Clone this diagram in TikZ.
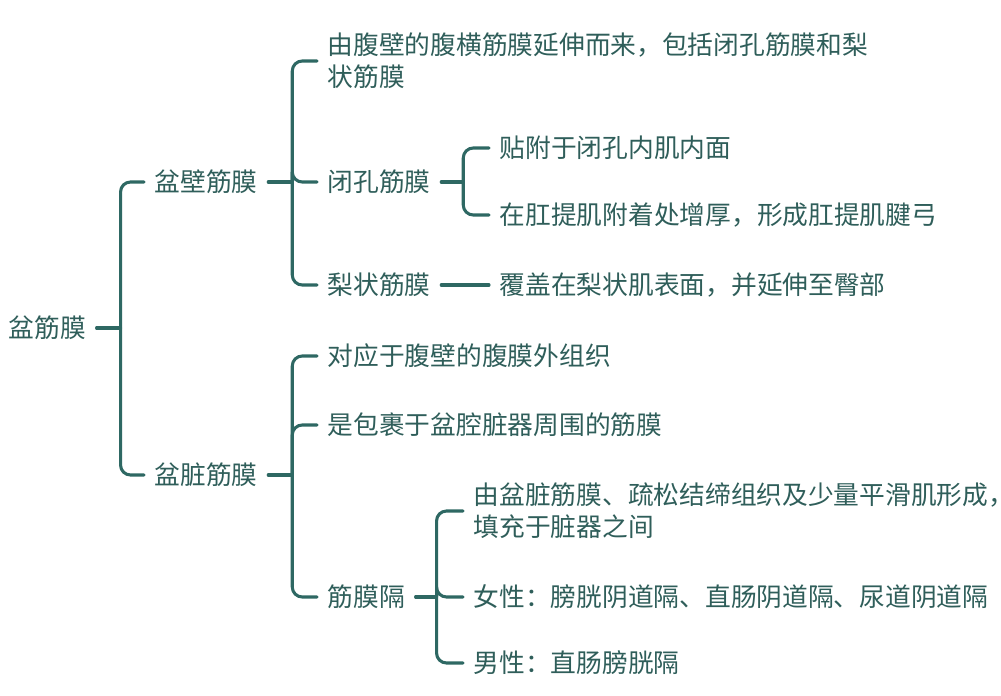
\documentclass[tikz,border=0pt]{standalone}
\usepackage{fontspec}
\setmainfont{Noto Sans CJK SC}
\usepackage{tikz}
\usetikzlibrary{positioning}
\definecolor{mapline}{HTML}{2E6863}
\definecolor{maptext}{HTML}{2F5E5A}

\begin{document}
\begin{tikzpicture}[
    x=0.75pt, y=-0.75pt,
    every node/.style={font=\fontsize{19.3}{24}\selectfont, text=maptext, align=left},
    topic/.style={anchor=west, inner sep=0pt, outer xsep=8pt},
    link/.style={draw=mapline, line width=2.3pt, rounded corners=7.5pt, line cap=round}
  ]
    \useasboundingbox (0,0) rectangle (1001,696);

    % Root and main branches
    \node[topic] (root) at (-2,328) {盆筋膜};
    \node[topic] (wall) at (144,182) {盆壁筋膜};
    \node[topic] (visc) at (144,475) {盆脏筋膜};

    % Pelvic wall fascia
    \node[topic] (wallorig) at (317,61) {由腹壁的腹横筋膜延伸而来，包括闭孔筋膜和梨\\状筋膜};
    \node[topic] (obt) at (317,182) {闭孔筋膜};
    \node[topic] (pir) at (317,285) {梨状筋膜};
    \node[topic] (obtin) at (489,148) {贴附于闭孔内肌内面};
    \node[topic] (obtarc) at (489,215) {在肛提肌附着处增厚，形成肛提肌腱弓};
    \node[topic] (pirsurf) at (489,285) {覆盖在梨状肌表面，并延伸至臀部};

    % Visceral fascia
    \node[topic] (viscorig) at (317,356) {对应于腹壁的腹膜外组织};
    \node[topic] (viscwrap) at (317,425) {是包裹于盆腔脏器周围的筋膜};
    \node[topic] (sept) at (317,597) {筋膜隔};
    \node[topic] (septform) at (463,511) {由盆脏筋膜、疏松结缔组织及少量平滑肌形成，\\填充于脏器之间};
    \node[topic] (female) at (463,597) {女性：膀胱阴道隔、直肠阴道隔、尿道阴道隔};
    \node[topic] (male) at (463,663) {男性：直肠膀胱隔};

    % Connections
    \draw[link] (root.east) -- ++(24,0) coordinate (jroot);
    \draw[link] (jroot) |- (wall.west);
    \draw[link] (jroot) |- (visc.west);

    \draw[link] (wall.east) -- ++(24,0) coordinate (jwall);
    \draw[link] (jwall) |- (wallorig.west);
    \draw[link] (jwall) |- (obt.west);
    \draw[link] (jwall) |- (pir.west);

    \draw[link] (obt.east) -- ++(22,0) coordinate (jobt);
    \draw[link] (jobt) |- (obtin.west);
    \draw[link] (jobt) |- (obtarc.west);

    \draw[link] (pir.east) -- (pirsurf.west);

    \draw[link] (visc.east) -- ++(24,0) coordinate (jvisc);
    \draw[link] (jvisc) |- (viscorig.west);
    \draw[link] (jvisc) |- (viscwrap.west);
    \draw[link] (jvisc) |- (sept.west);

    \draw[link] (sept.east) -- ++(21,0) coordinate (jsept);
    \draw[link] (jsept) |- (septform.west);
    \draw[link] (jsept) |- (female.west);
    \draw[link] (jsept) |- (male.west);

  \end{tikzpicture}
\end{document}
